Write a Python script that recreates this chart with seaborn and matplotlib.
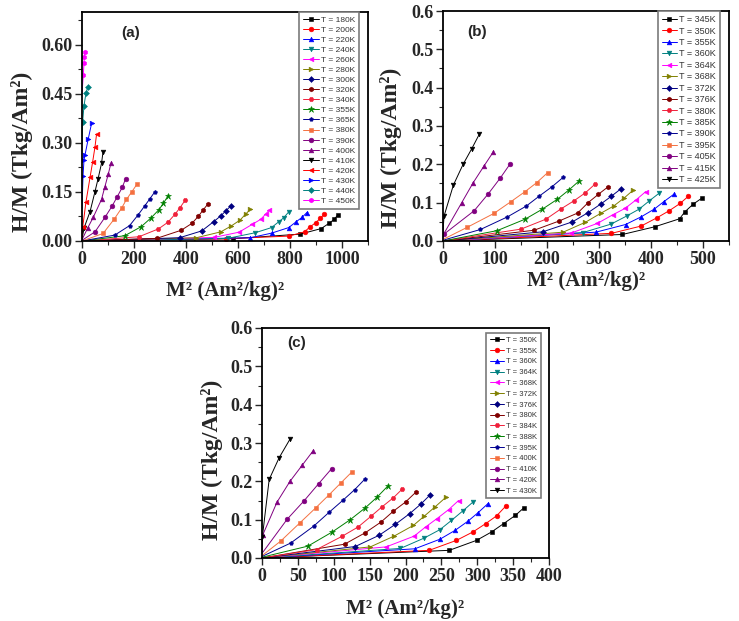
import matplotlib
matplotlib.use("Agg")
import matplotlib.pyplot as plt
import seaborn as sns
from matplotlib.ticker import MultipleLocator, FormatStrFormatter

# ---------------- data ----------------
# panel (a)
a_temps = [180, 200, 220, 240, 260, 280, 300, 320, 340, 355, 365, 380, 390, 400, 410, 420, 430, 440, 450]
a_x = [
    [0, 580, 839, 920, 950, 970, 983],
    [0, 554, 796, 856, 875, 899, 916, 932],
    [0, 648, 729, 795, 824, 846, 865],
    [0, 560, 665, 729, 757, 776, 795],
    [0, 508, 604, 655, 687, 706, 721],
    [0, 440, 534, 574, 608, 629, 648],
    [0, 375, 461, 506, 534, 553, 572],
    [0, 287, 382, 423, 448, 466, 483],
    [0, 219, 294, 330, 358, 377, 397],
    [0, 164, 228, 266, 295, 313, 330],
    [0, 126, 183, 215, 241, 260, 279],
    [0, 81, 124, 152, 171, 192, 211],
    [0, 50, 88, 116, 136, 155, 168],
    [0, 22, 43, 75, 88, 101, 111],
    [0, 8, 31, 50, 62, 75, 81],
    [0, 3, 15, 31, 41, 50, 56],
    [0, 4, 7.6, 11.5, 24, 37],
    [0, 2.5, 7.6, 15, 22],
    [0, 5, 7.6, 8.5, 11.5],
]
a_y = [
    [0, 0.007, 0.021, 0.038, 0.054, 0.066, 0.079],
    [0, 0.007, 0.015, 0.028, 0.042, 0.056, 0.069, 0.082],
    [0, 0.010, 0.024, 0.041, 0.059, 0.072, 0.087],
    [0, 0.008, 0.025, 0.041, 0.059, 0.071, 0.089],
    [0, 0.011, 0.027, 0.051, 0.066, 0.082, 0.095],
    [0, 0.010, 0.028, 0.046, 0.064, 0.082, 0.097],
    [0, 0.010, 0.031, 0.059, 0.077, 0.092, 0.107],
    [0, 0.008, 0.033, 0.054, 0.076, 0.095, 0.112],
    [0, 0.013, 0.037, 0.057, 0.082, 0.102, 0.125],
    [0, 0.016, 0.044, 0.071, 0.095, 0.115, 0.137],
    [0, 0.018, 0.047, 0.079, 0.107, 0.128, 0.149],
    [0, 0.023, 0.067, 0.100, 0.127, 0.151, 0.173],
    [0.002, 0.028, 0.072, 0.107, 0.136, 0.164, 0.191],
    [0.004, 0.040, 0.072, 0.127, 0.166, 0.204, 0.237],
    [0.005, 0.040, 0.090, 0.151, 0.191, 0.237, 0.273],
    [0.010, 0.044, 0.118, 0.195, 0.242, 0.288, 0.326],
    [0.100, 0.200, 0.247, 0.263, 0.312, 0.360],
    [0.300, 0.365, 0.413, 0.451, 0.470],
    [0.450, 0.507, 0.543, 0.563, 0.577],
]

# panel (b)
b_temps = [345, 350, 355, 360, 364, 368, 372, 376, 380, 385, 390, 395, 405, 415, 425]
b_x = [
    [0, 345, 407, 455, 465, 481, 498],
    [0, 324, 381, 412, 435, 456, 472],
    [0, 294, 351, 381, 406, 425, 444],
    [0, 269, 323, 353, 377, 397, 415],
    [0, 247, 297, 326, 350, 371, 390],
    [0, 231, 274, 303, 328, 349, 366],
    [0, 192, 249, 279, 304, 324, 342],
    [0, 175, 223, 259, 279, 299, 318],
    [0, 150, 198, 226, 252, 274, 292],
    [0, 104, 158, 191, 220, 242, 262],
    [0, 72, 124, 160, 185, 210, 231],
    [0, 47, 98, 131, 158, 180, 201],
    [0, 2, 60, 87, 110, 129],
    [0, 36, 58, 79, 97],
    [0, 2, 20, 39, 55, 70],
]
b_y = [
    [0, 0.017, 0.037, 0.058, 0.076, 0.096, 0.112],
    [0, 0.020, 0.039, 0.061, 0.079, 0.098, 0.117],
    [0, 0.023, 0.043, 0.063, 0.083, 0.103, 0.122],
    [0, 0.022, 0.044, 0.065, 0.083, 0.105, 0.124],
    [0, 0.021, 0.046, 0.068, 0.085, 0.107, 0.129],
    [0, 0.023, 0.049, 0.072, 0.091, 0.113, 0.133],
    [0, 0.024, 0.050, 0.074, 0.097, 0.117, 0.136],
    [0, 0.028, 0.052, 0.073, 0.100, 0.122, 0.142],
    [0, 0.031, 0.057, 0.083, 0.105, 0.126, 0.148],
    [0, 0.027, 0.057, 0.083, 0.109, 0.133, 0.157],
    [0.002, 0.030, 0.063, 0.091, 0.117, 0.142, 0.166],
    [0.004, 0.036, 0.072, 0.103, 0.129, 0.152, 0.178],
    [0.010, 0.018, 0.079, 0.123, 0.164, 0.201],
    [0.015, 0.100, 0.152, 0.196, 0.233],
    [0.025, 0.065, 0.146, 0.201, 0.240, 0.279],
]

# panel (c)
c_temps = [350, 355, 360, 364, 368, 372, 376, 380, 384, 388, 395, 400, 410, 420, 430]
c_x = [
    [0, 261, 299, 320, 337, 353, 365],
    [0, 233, 271, 294, 312, 327, 340],
    [0, 213, 248, 269, 287, 301, 315],
    [0, 193, 226, 248, 264, 280, 294],
    [0, 173, 212, 228, 244, 260, 274],
    [0, 151, 184, 211, 226, 241, 256],
    [0, 130, 163, 186, 206, 221, 234],
    [0, 115, 144, 166, 183, 200, 214],
    [0, 76, 112, 134, 152, 167, 183, 195],
    [0, 64, 98, 123, 144, 160, 175],
    [0, 40, 72, 94, 113, 129, 144],
    [0, 26, 53, 75, 93, 110, 125],
    [0, 35, 59, 79, 97],
    [0, 1, 21, 39, 56, 71],
    [0, 0.5, 10, 24, 39],
]
c_y = [
    [0, 0.020, 0.046, 0.068, 0.090, 0.111, 0.131],
    [0, 0.020, 0.046, 0.068, 0.090, 0.110, 0.136],
    [0, 0.024, 0.049, 0.072, 0.096, 0.118, 0.142],
    [0, 0.025, 0.052, 0.074, 0.098, 0.123, 0.146],
    [0, 0.029, 0.057, 0.081, 0.103, 0.126, 0.150],
    [0, 0.029, 0.057, 0.085, 0.109, 0.133, 0.158],
    [0, 0.030, 0.059, 0.088, 0.116, 0.140, 0.164],
    [0, 0.036, 0.066, 0.094, 0.122, 0.146, 0.171],
    [0, 0.022, 0.057, 0.081, 0.109, 0.133, 0.157, 0.179],
    [0.002, 0.031, 0.068, 0.100, 0.131, 0.158, 0.187],
    [0.004, 0.039, 0.083, 0.120, 0.151, 0.178, 0.207],
    [0.006, 0.044, 0.092, 0.131, 0.164, 0.196, 0.224],
    [0.012, 0.101, 0.150, 0.194, 0.233],
    [0.015, 0.060, 0.146, 0.200, 0.242, 0.279],
    [0.030, 0.055, 0.205, 0.262, 0.310],
]

# Origin-like style sequence
style_colors = ["#000000", "#FF0000", "#0000FF", "#008080", "#FF00FF", "#808000",
                "#000080", "#800000", "#F0203A", "#008000", "#000090", "#F47040",
                "#800080", "#800080", "#000000", "#FF0000", "#0000FF", "#008080", "#FF00FF"]
style_markers = ["s", "o", "^", "v", "<", ">", "D", "h", "H", "*", "p", "s",
                 "o", "^", "v", "<", ">", "D", "h"]

# ---------------- plotting ----------------
sns.set_theme(style="white")
plt.rcParams["font.family"] = ["Liberation Sans", "DejaVu Sans"]
serif = ["Liberation Serif", "DejaVu Serif"]

fig = plt.figure(figsize=(7.39, 6.21), dpi=100)
W, H = 739, 621


def add_axes(l, t, r, b):
    return fig.add_axes([l / W, 1 - b / H, (r - l) / W, (b - t) / H])


ax_a = add_axes(82, 12, 368, 241)
ax_b = add_axes(443, 11, 729, 241)
ax_c = add_axes(262, 328, 549, 558)

panels = [
    dict(ax=ax_a, temps=a_temps, xs=a_x, ys=a_y, xlim=(0, 1100), ylim=(0, 0.7),
         xmaj=200, xmin=100, ymaj=0.15, ymin=0.075, yfmt="%.2f", tag="(a)",
         tagpos=(0.171, 0.908), leg_anchor=(0.969, 1.0), leg_fs=6.0, leg_sp=0.27,
         leg_hl=1.9, ylab=(-0.171, 0.39), xlab=(0.5, -0.175)),
    dict(ax=ax_b, temps=b_temps, xs=b_x, ys=b_y, xlim=(0, 550), ylim=(0, 0.6),
         xmaj=100, xmin=50, ymaj=0.1, ymin=0.05, yfmt="%.1f", tag="(b)",
         tagpos=(0.119, 0.908), leg_anchor=(0.969, 1.0), leg_fs=6.5, leg_sp=0.27,
         leg_hl=1.6, ylab=(-0.143, 0.406), xlab=(0.5, -0.13)),
    dict(ax=ax_c, temps=c_temps, xs=c_x, ys=c_y, xlim=(0, 400), ylim=(0, 0.6),
         xmaj=50, xmin=25, ymaj=0.1, ymin=0.05, yfmt="%.1f", tag="(c)",
         tagpos=(0.122, 0.935), leg_anchor=(0.972, 0.978), leg_fs=5.5, leg_sp=0.45,
         leg_hl=1.9, ylab=(-0.136, 0.426), xlab=(0.5, -0.18)),
]

for p in panels:
    ax = p["ax"]
    for i, (t, xs, ys) in enumerate(zip(p["temps"], p["xs"], p["ys"])):
        c = style_colors[i]
        m = style_markers[i]
        ms = 4.6 if m == "*" else (3.0 if m in ("p", "D") else 3.4)
        sns.lineplot(x=xs, y=ys, ax=ax, color=c, marker=m, markersize=ms,
                     markeredgecolor=c, markeredgewidth=0.4, linewidth=0.7,
                     markevery=list(range(1, len(xs))), estimator=None, sort=False,
                     label=f"T = {t}K")
    ax.set_xlim(*p["xlim"])
    ax.set_ylim(*p["ylim"])
    ax.xaxis.set_major_locator(MultipleLocator(p["xmaj"]))
    ax.xaxis.set_minor_locator(MultipleLocator(p["xmin"]))
    ax.yaxis.set_major_locator(MultipleLocator(p["ymaj"]))
    ax.yaxis.set_minor_locator(MultipleLocator(p["ymin"]))
    ax.yaxis.set_major_formatter(FormatStrFormatter(p["yfmt"]))
    ax.tick_params(which="major", direction="out", length=5, width=1.0,
                   bottom=True, left=True, top=False, right=False, pad=2)
    ax.tick_params(which="minor", direction="out", length=3, width=0.8,
                   bottom=True, left=True, top=False, right=False)
    for lab in ax.get_xticklabels() + ax.get_yticklabels():
        lab.set_fontfamily(serif)
        lab.set_fontweight("bold")
        lab.set_fontsize(13)
    for s in ax.spines.values():
        s.set_visible(True)
        s.set_color("black")
        s.set_linewidth(1.3)
    ax.set_xlabel("M² (Am²/kg)²", fontfamily=serif, fontweight="bold", fontsize=15)
    ax.set_ylabel("H/M (Tkg/Am²)", fontfamily=serif, fontweight="bold", fontsize=17)
    ax.xaxis.set_label_coords(*p["xlab"])
    ax.yaxis.set_label_coords(*p["ylab"])
    ax.text(p["tagpos"][0], p["tagpos"][1], p["tag"], transform=ax.transAxes,
            ha="center", va="center", fontsize=11, fontweight="bold")
    leg = ax.legend(loc="upper right", bbox_to_anchor=p["leg_anchor"], borderaxespad=0,
                    fontsize=p["leg_fs"], labelspacing=p["leg_sp"], handlelength=p["leg_hl"],
                    handletextpad=0.3, borderpad=0.45, fancybox=False, framealpha=1,
                    edgecolor="#7a7a7a")
    leg.get_frame().set_linewidth(1.2)
    for txt in leg.get_texts():
        txt.set_color("#333333")

fig.savefig("out.png", dpi=100)
